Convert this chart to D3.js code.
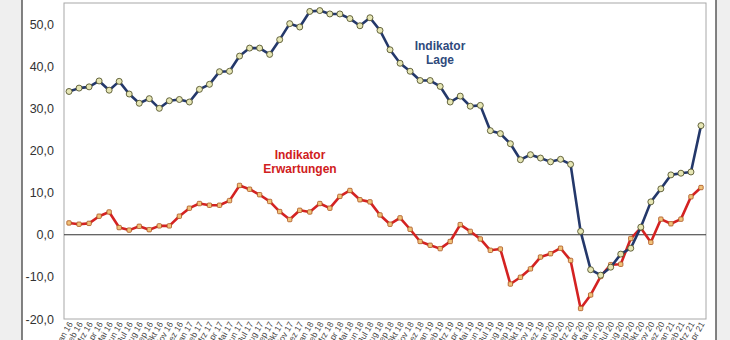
<!DOCTYPE html>
<html>
<head>
<meta charset="utf-8">
<script src="https://cdn.jsdelivr.net/npm/d3@7"></script>
<style>
  html, body { margin: 0; padding: 0; background: #efefef; }
  svg { display: block; font-family: "Liberation Sans", Arial, sans-serif; }
</style>
</head>
<body>
<svg id="chart" width="730" height="340"></svg>
<script>
// Monthly values, Jan 2016 – Apr 2021
const monthNames = ["Jan", "Feb", "Mrz", "Apr", "Mai", "Jun", "Jul", "Aug", "Sep", "Okt", "Nov", "Dez"];
const years = ["16", "17", "18", "19", "20", "21"];
const months = [];
years.forEach(y => monthNames.forEach(m => months.push(m + " " + y)));
const categories = months.slice(0, 64);

const lage = [
  34.0, 34.8, 35.1, 36.5, 34.3, 36.4, 33.4, 31.2, 32.3, 30.0, 31.8, 32.1,
  31.5, 34.5, 35.7, 38.7, 38.8, 42.4, 44.3, 44.3, 42.8, 46.3, 50.1, 49.3,
  53.0, 53.2, 52.4, 52.4, 51.3, 49.6, 51.5, 48.5, 43.9, 40.7, 38.8, 36.6,
  36.6, 35.2, 31.5, 32.9, 30.5, 30.7, 24.7, 24.0, 21.6, 17.8, 19.0, 18.2,
  17.3, 17.9, 16.7, 0.8, -8.3, -9.6, -7.7, -4.6, -3.2, 1.8, 7.8, 10.9,
  14.2, 14.6, 14.9, 25.9
];

const erwartungen = [
  2.8, 2.5, 2.7, 4.4, 5.4, 1.7, 1.1, 2.0, 1.2, 2.1, 2.1, 4.4,
  6.3, 7.4, 7.0, 7.0, 8.1, 11.7, 10.8, 9.5, 7.9, 5.5, 3.6, 5.8,
  5.4, 7.4, 6.3, 9.1, 10.5, 8.3, 7.8, 4.7, 2.5, 4.0, 1.3, -1.6,
  -2.5, -3.3, -1.6, 2.4, 0.8, -1.0, -3.7, -3.4, -11.7, -10.1, -8.1, -5.3,
  -4.5, -3.2, -6.1, -17.5, -14.3, -9.9, -7.1, -7.0, -0.9, 1.6, -1.8, 3.7,
  2.6, 3.7, 9.0, 11.2
];

const yTicks = [-20, -10, 0, 10, 20, 30, 40, 50];

const svg = d3.select("#chart");
const W = 730, H = 340;
const plot = { left: 64, right: 706, top: 3, bottom: 319 };

// white panel with dark side edges
svg.append("rect")
  .attr("x", 22).attr("y", -5).attr("width", 694).attr("height", H + 10)
  .attr("fill", "#ffffff").attr("stroke", "#5a5a5a").attr("stroke-width", 1.5);

const x = d3.scaleBand().domain(categories).range([plot.left, plot.right]).padding(0);
const y = d3.scaleLinear().domain([-20, 55]).range([plot.bottom, plot.top]);
const cx = d => x(d) + x.bandwidth() / 2;

const de = d3.formatLocale({ decimal: ",", thousands: ".", grouping: [3], currency: ["", " €"], minus: "-" });
const fmt = de.format(".1f");

// plot frame
svg.append("rect")
  .attr("x", plot.left).attr("y", plot.top)
  .attr("width", plot.right - plot.left).attr("height", plot.bottom - plot.top)
  .attr("fill", "#ffffff").attr("stroke", "#a8a8a8").attr("stroke-width", 1);

// y axis labels
const yAxis = d3.axisLeft(y).tickValues(yTicks).tickFormat(fmt).tickSize(0).tickPadding(10);
const gy = svg.append("g").attr("transform", `translate(${plot.left},0)`).call(yAxis);
gy.select(".domain").remove();
gy.selectAll("text").attr("font-size", 12.5).attr("fill", "#333").attr("font-family", "Liberation Sans, Arial, sans-serif");

// x axis labels, rotated
const xAxis = d3.axisBottom(x).tickSize(0).tickPadding(0);
const gx = svg.append("g").attr("transform", `translate(0,${plot.bottom})`).call(xAxis);
gx.select(".domain").remove();
gx.selectAll("text")
  .attr("font-size", 8.5).attr("fill", "#444")
  .attr("font-family", "Liberation Sans, Arial, sans-serif")
  .attr("text-anchor", "end")
  .attr("dy", 0)
  .attr("transform", "translate(4,5) rotate(-60)");

// zero line
svg.append("line")
  .attr("x1", plot.left).attr("x2", plot.right)
  .attr("y1", y(0)).attr("y2", y(0))
  .attr("stroke", "#333").attr("stroke-width", 1.2);

const line = d3.line().x((d, i) => cx(categories[i])).y(d => y(d));

// Erwartungen (red)
svg.append("path").datum(erwartungen)
  .attr("d", line).attr("fill", "none")
  .attr("stroke", "#d42222").attr("stroke-width", 2.6).attr("stroke-linejoin", "round");
svg.append("g").selectAll("rect").data(erwartungen).join("rect")
  .attr("x", (d, i) => cx(categories[i]) - 2.2)
  .attr("y", d => y(d) - 2.2)
  .attr("width", 4.4).attr("height", 4.4).attr("rx", 1)
  .attr("fill", "#f0c27a").attr("stroke", "#a8501c").attr("stroke-width", 0.8);

// Lage (blue)
svg.append("path").datum(lage)
  .attr("d", line).attr("fill", "none")
  .attr("stroke", "#24386a").attr("stroke-width", 2.6).attr("stroke-linejoin", "round");
svg.append("g").selectAll("circle").data(lage).join("circle")
  .attr("cx", (d, i) => cx(categories[i]))
  .attr("cy", d => y(d))
  .attr("r", 3)
  .attr("fill", "#e6e6b4").attr("stroke", "#55552e").attr("stroke-width", 0.9);

// series labels
function label(lines, px, py, color) {
  const t = svg.append("text")
    .attr("text-anchor", "middle").attr("font-weight", "bold")
    .attr("font-size", 12).attr("fill", color);
  lines.forEach((s, k) => t.append("tspan").attr("x", px).attr("y", py + k * 14).text(s));
}
label(["Indikator", "Lage"], 440, 50, "#2f4a7c");
label(["Indikator", "Erwartungen"], 300, 159, "#d02020");
</script>
</body>
</html>
